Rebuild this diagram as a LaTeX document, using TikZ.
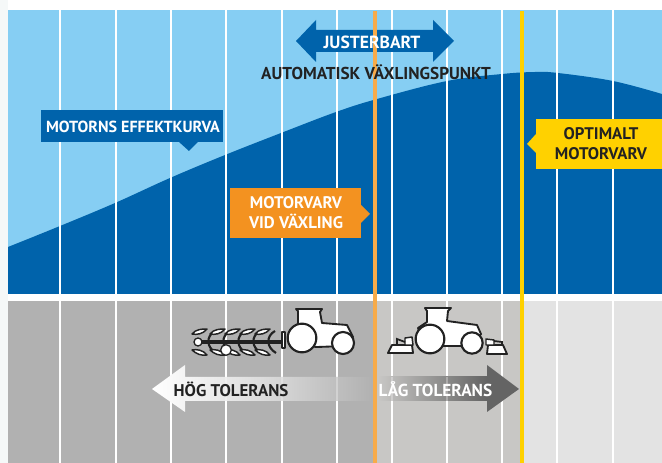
\documentclass[tikz,border=0pt]{standalone}
\usepackage{fontspec}
\setmainfont{PT Sans}
\usetikzlibrary{positioning}
\definecolor{skyblue}{HTML}{86CEF3}
\definecolor{darkblue}{HTML}{0063AB}
\definecolor{varvorange}{HTML}{F39220}
\definecolor{lineorange}{HTML}{F7AB4A}
\definecolor{optyellow}{HTML}{FFD100}
\definecolor{darkgrey}{HTML}{B1B1B1}
\definecolor{midgrey}{HTML}{C8C7C5}
\definecolor{lightgrey}{HTML}{E3E3E3}
\definecolor{arrowgrey}{HTML}{646464}
\definecolor{inktext}{HTML}{222222}
\definecolor{sidetint}{HTML}{F5F8F8}
\tikzset{
  x=0.75pt, y=-0.75pt,
  grid/.style={white, line width=1pt},
  label/.style={font=\bfseries\fontsize{12.6}{15}\selectfont, text=white, align=center, inner sep=0pt},
  tire/.style={circle, draw=inktext, fill=white, line width=1.6pt, inner sep=0pt},
  body/.style={draw=inktext, fill=white, line width=1.4pt, line join=round},
  leaf/.style={draw=inktext, fill=white, line width=1.1pt, line join=round},
  shank/.style={draw=inktext, line width=1.6pt},
}
\begin{document}
\begin{tikzpicture}
\useasboundingbox (0,0) rectangle (662,463);
% Fondo
\fill[sidetint] (0,0) rectangle (8,463);
\fill[skyblue] (8,10) rectangle (662,294);
\fill[darkgrey] (8,301) rectangle (375,463);
\fill[midgrey] (375,301) rectangle (522,463);
\fill[lightgrey] (522,301) rectangle (662,463);
% Curva
\fill[darkblue] (8,294) -- (8,247) -- plot[smooth, tension=0.6] coordinates {(8,247) (60,226) (115,203) (170,178) (225,155) (281,133) (336,112) (377,99) (447,81) (502,74) (535,72) (558,73) (613,81) (662,94)} -- (662,294) -- cycle;
% Lineas
\foreach \x in {60,116,171,226,282,337,392,447,502,557,613}{
  \draw[grid] (\x,10) -- (\x,294);
  \draw[grid] (\x,301) -- (\x,463);
}
% Flechas de tolerancia
\shade[left color=white, right color=darkgrey, middle color=white!55!darkgrey]
  (152,389) -- (185,365) -- (185,377) -- (372,377) -- (372,401) -- (185,401) -- (185,412) -- cycle;
\shade[left color=midgrey, right color=arrowgrey]
  (378,377) rectangle (487,401);
\fill[arrowgrey] (487,365) -- (519,389) -- (487,412) -- cycle;
\foreach \x in {171,226,282,337,392,447}{
  \draw[grid, opacity=0.3] (\x,377) -- (\x,401);
}
% Flecha ajustable
\fill[darkblue] (296,41) -- (316,20) -- (316,30) -- (433,30) -- (433,20) -- (454,41) -- (433,62) -- (433,52) -- (316,52) -- (316,62) -- cycle;
% Lineas verticales
\draw[lineorange, line width=3pt] (375,11) -- (375,463);
\draw[optyellow, line width=3.4pt] (522,11) -- (522,463);
\node[label, font=\bfseries\fontsize{13.2}{15}\selectfont] (juster) at (372,42) {JUSTERBART};
\node[label, text=inktext, font=\bfseries\fontsize{12.9}{15}\selectfont] (auto) at (376,72) {AUTOMATISK VÄXLINGSPUNKT};
% Etiquetas
\fill[darkblue] (41,110) rectangle (223,142);
\fill[darkblue] (179,142) -- (189,151) -- (198,142) -- cycle;
\node[label, font=\bfseries\fontsize{12.05}{15}\selectfont] (effekt) at (133,127) {MOTORNS EFFEKTKURVA};
\fill[varvorange] (230,188) rectangle (361,238);
\fill[varvorange] (361,205) -- (370,214) -- (361,223) -- cycle;
\node[label] (varv) at (296,213) {MOTORVARV\\VID VÄXLING};
\fill[optyellow] (536,119) rectangle (662,169);
\fill[optyellow] (536,134) -- (527,144) -- (536,153) -- cycle;
\node[label, text=inktext] (optimalt) at (601,144) {OPTIMALT\\MOTORVARV};
% Plog
\draw[inktext, line width=2.6pt] (198,342) -- (285,342);
\foreach \x in {217,232,247,262,277}{
  \draw[shank] (\x-2,331) .. controls (\x-11,336) and (\x-11,347) .. (\x-1,353);
}
\foreach \x in {199,217,232,247,262}{
  \draw[leaf] (\x-7,334) .. controls (\x-3,329) and (\x+3,329) .. (\x+8,329) .. controls (\x+4,334) and (\x-2,335) .. cycle;
  \draw[leaf] (\x-7,350) .. controls (\x-3,354) and (\x+3,356) .. (\x+8,355) .. controls (\x+4,350) and (\x-2,349) .. cycle;
}
\node[tire, minimum size=6pt, line width=1pt] (ruedaplog) at (198,342) {};
\node[tire, minimum size=8pt, line width=1pt] (ruedaplogb) at (226,350) {};
\draw[body, line width=1.1pt] (282,332) rectangle (285,348);
% Tractor grande
\draw[body] (290,330) -- (298,324) -- (298,311) -- (296,309) -- (322,309) -- (320,312) -- (322,323) -- (347,325) -- (353,337) -- (345,346) -- (317,347) -- (295,345) -- cycle;
\node[tire, minimum size=21.5pt] (rueda) at (302,338) {};
\node[tire, minimum size=16.5pt] (ruedita) at (343,343) {};
% Tractor pequeno
\draw[body] (418,328) -- (427,322) -- (427,311) -- (425,308) -- (451,308) -- (448,311) -- (447,321) -- (477,325) -- (481,334) -- (472,346) -- (425,346) -- cycle;
\node[tire, minimum size=21.5pt] (ruedab) at (430,339) {};
\node[tire, minimum size=16pt] (ruedac) at (472,343) {};
\draw[body] (388,353) -- (392,345) -- (412,345) -- (413,353) -- cycle;
\draw[body] (488,345) -- (503,345) -- (507,354) -- (487,354) -- cycle;
\draw[body, line width=1.1pt] (405,338) -- (412,337) -- (413,345) -- (405,345) -- cycle;
\draw[inktext, line width=1.3pt] (397,345) -- (397,339) -- (405,342);
\draw[body, line width=1.1pt] (486,339) -- (494,340) -- (494,345) -- (486,345) -- cycle;
\draw[inktext, line width=1.3pt] (494,341) -- (502,342) -- (502,345);
% Tolerancia
\node[label, text=inktext, font=\bfseries\fontsize{12.7}{15}\selectfont] (hog) at (231,389) {HÖG TOLERANS};
\node[label, font=\bfseries\fontsize{13}{15}\selectfont] (lag) at (435.5,389) {LÅG TOLERANS};
\end{tikzpicture}
\end{document}
